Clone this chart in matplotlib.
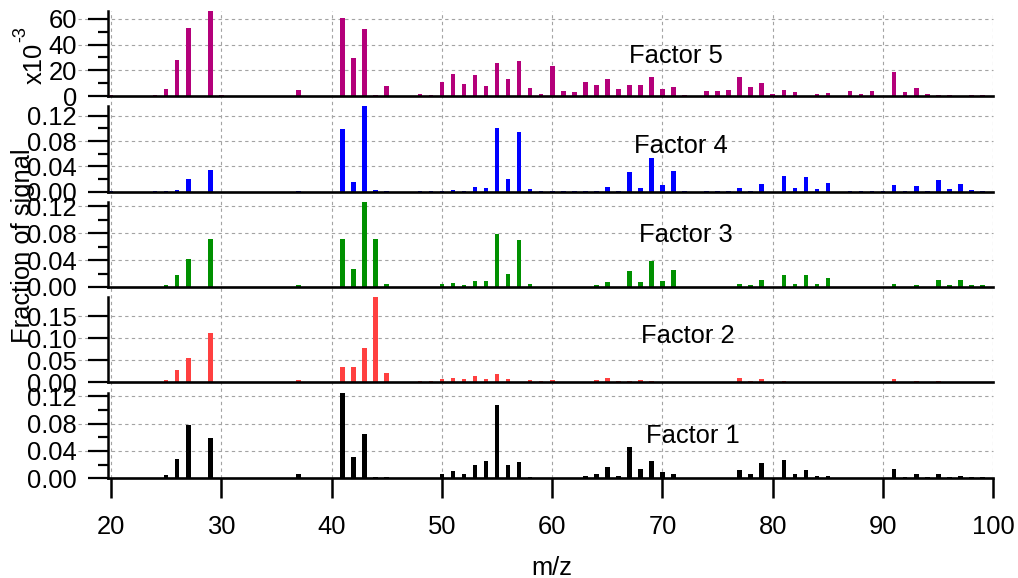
import numpy as np
import matplotlib
matplotlib.use("Agg")
import matplotlib.pyplot as plt
from matplotlib.transforms import blended_transform_factory
from matplotlib.ticker import FixedLocator, FormatStrFormatter

plt.rcParams['font.family'] = ['Liberation Sans', 'DejaVu Sans']

# ---------------- data (fraction of signal, m/z 20..99) ----------------
mz = list(range(20, 100))

factor5 = [0.0004, 0, 0, 0, 0.0008, 0.0052, 0.028, 0.053, 0, 0.067,
           0.0005, 0, 0, 0, 0, 0, 0, 0.0047, 0, 0,
           0, 0.061, 0.0296, 0.0519, 0.0005, 0.0078, 0, 0, 0.0015, 0.0010,
           0.0109, 0.017, 0.0093, 0.0163, 0.0078, 0.026, 0.0135, 0.027, 0.006, 0.0015,
           0.0233, 0.0041, 0.0031, 0.0111, 0.0088, 0.0135, 0.0054, 0.0083, 0.0083, 0.0148,
           0.0054, 0.0067, 0.0005, 0, 0.0039, 0.0039, 0.0047, 0.0148, 0.0067, 0.0099,
           0.0015, 0.0047, 0.0028, 0.0003, 0.0018, 0.0023, 0, 0.0036, 0.0018, 0.0039,
           0.0003, 0.0187, 0.0028, 0.0062, 0.0018, 0.0005, 0.0008, 0.0002, 0.0005, 0.0005]

factor4 = [0.0008, 0, 0, 0, 0.001, 0.001, 0.003, 0.0206, 0, 0.0348,
           0, 0, 0, 0, 0, 0, 0, 0.001, 0, 0,
           0, 0.0986, 0.0153, 0.137, 0.0026, 0.001, 0, 0, 0.001, 0.001,
           0.0005, 0.0026, 0.001, 0.0074, 0.0053, 0.1007, 0.0206, 0.0944, 0.0042, 0.001,
           0.001, 0.001, 0.001, 0.001, 0.001, 0.0069, 0.001, 0.031, 0.0063, 0.0532,
           0.0105, 0.0327, 0.0005, 0, 0.0005, 0.0005, 0.0005, 0.0053, 0.0005, 0.0121,
           0, 0.0248, 0.0053, 0.0227, 0.0042, 0.0137, 0, 0.001, 0.001, 0.0005,
           0.0005, 0.0105, 0.0005, 0.0084, 0.0005, 0.0184, 0.0037, 0.0126, 0.0026, 0.0005]

factor3 = [0.0005, 0, 0, 0, 0.0005, 0.003, 0.0173, 0.0415, 0, 0.0706,
           0, 0, 0, 0, 0, 0, 0, 0.0025, 0, 0,
           0, 0.0716, 0.0262, 0.128, 0.0706, 0.005, 0, 0, 0.0005, 0.0005,
           0.0044, 0.006, 0.003, 0.0094, 0.0094, 0.079, 0.0193, 0.0697, 0.005, 0.0005,
           0.0005, 0.0005, 0.0005, 0.0005, 0.003, 0.0079, 0.0005, 0.0242, 0.0069, 0.0385,
           0.0089, 0.0252, 0.0005, 0, 0.0005, 0.0005, 0.0005, 0.005, 0.0025, 0.0099,
           0, 0.0173, 0.005, 0.0183, 0.0044, 0.0128, 0, 0.0005, 0.0005, 0,
           0, 0.005, 0.0005, 0.003, 0.0005, 0.0109, 0.003, 0.0104, 0.0025, 0.0025]

factor2 = [0.001, 0, 0, 0, 0.0015, 0.0053, 0.028, 0.056, 0, 0.1114,
           0.001, 0, 0, 0, 0, 0, 0, 0.0053, 0, 0,
           0, 0.0356, 0.0356, 0.078, 0.196, 0.0212, 0, 0, 0.0023, 0.0023,
           0.0083, 0.0106, 0.0068, 0.0152, 0.0068, 0.0197, 0.008, 0.0015, 0.006, 0.003,
           0.006, 0.0015, 0.0015, 0.0015, 0.0045, 0.009, 0.002, 0.002, 0.005, 0.002,
           0.0015, 0.001, 0.001, 0, 0.0015, 0.0015, 0.0015, 0.009, 0.002, 0.0076,
           0.001, 0.002, 0.0015, 0.0015, 0.0015, 0.0015, 0, 0.0015, 0.001, 0.0015,
           0.0015, 0.0076, 0.0015, 0.002, 0.0015, 0.002, 0.0015, 0.0015, 0.0015, 0.0015]

factor1 = [0, 0, 0, 0, 0.001, 0.0049, 0.0278, 0.078, 0, 0.0586,
           0, 0, 0, 0, 0, 0, 0, 0.0059, 0, 0,
           0, 0.127, 0.0307, 0.065, 0.0024, 0.0015, 0, 0, 0, 0,
           0.0059, 0.0102, 0.0059, 0.019, 0.0259, 0.107, 0.0198, 0.0236, 0.0024, 0,
           0.0005, 0, 0, 0.003, 0.0059, 0.0161, 0.004, 0.0454, 0.0137, 0.0259,
           0.0093, 0.0059, 0, 0, 0.0005, 0, 0, 0.0127, 0.0068, 0.0229,
           0, 0.0268, 0.0059, 0.0117, 0.004, 0.003, 0, 0, 0, 0,
           0, 0.0137, 0.0024, 0.0059, 0.0015, 0.0068, 0.0024, 0.004, 0.0024, 0.0015]

factor_names = ["Factor 5", "Factor 4", "Factor 3", "Factor 2", "Factor 1"]
factor_colors = ["#B4007A", "#0000FF", "#009000", "#FF4040", "#000000"]
x_ticks = [20, 30, 40, 50, 60, 70, 80, 90, 100]

# ---------------- layout ----------------
W, H = 1018, 578
fig = plt.figure(figsize=(W / 100, H / 100), dpi=100)

def fy(px):
    return 1 - px / H

LEFT, RIGHT = 108, 993.4
XMIN, XMAX = 19.73, 100
FS = 18.4
GRID_C = "#a3a3a3"
GRID_LS = (0, (3, 3))

# (top px, bottom px, ymax, scale, major ticks, minor ticks, fmt)
panels = [
    (11.0, 96.0, 66.1, 1e3, [0, 20, 40, 60], [10, 30, 50], "%d"),
    (106.0, 191.7, 0.1355, 1, [0, 0.04, 0.08, 0.12], [0.02, 0.06, 0.10], "%.2f"),
    (201.7, 287.0, 0.1264, 1, [0, 0.04, 0.08, 0.12], [0.02, 0.06, 0.10], "%.2f"),
    (297.3, 382.3, 0.1932, 1, [0, 0.05, 0.10, 0.15], [], "%.2f"),
    (392.7, 478.3, 0.125, 1, [0, 0.04, 0.08, 0.12], [0.02, 0.06, 0.10], "%.2f"),
]
series = [factor5, factor4, factor3, factor2, factor1]
label_pos = [(676, 62.7), (681.3, 152.7), (685.8, 242.3), (687.7, 342.7), (692.5, 442.7)]

# background axes for vertical grid running through all panels
bg = fig.add_axes([LEFT / W, fy(478.3), (RIGHT - LEFT) / W, (478.3 - 11) / H])
bg.set_xlim(XMIN, XMAX)
bg.set_ylim(0, 1)
bg.axis("off")
for xt in x_ticks:
    bg.axvline(xt, color=GRID_C, lw=0.8, ls=GRID_LS, zorder=0)

for i, (top, bot, ymax, scale, majors, minors, fmt) in enumerate(panels):
    ax = fig.add_axes([LEFT / W, fy(bot), (RIGHT - LEFT) / W, (bot - top) / H])
    ax.set_facecolor("none")
    vals = np.array(series[i]) * scale
    ax.bar(mz, vals, width=0.42, color=factor_colors[i], linewidth=0, zorder=3)
    ax.set_xlim(XMIN, XMAX)
    ax.set_ylim(0, ymax)
    for s in ["top", "right"]:
        ax.spines[s].set_visible(False)
    ax.spines["left"].set_linewidth(1.8)
    ax.spines["bottom"].set_linewidth(1.9)
    ax.spines["bottom"].set_zorder(4)
    ax.yaxis.set_major_locator(FixedLocator(majors))
    ax.yaxis.set_minor_locator(FixedLocator(minors))
    ax.yaxis.set_major_formatter(FormatStrFormatter(fmt))
    ax.tick_params(axis="y", which="major", direction="out", length=14.4, width=1.6,
                   pad=8, labelsize=FS)
    ax.tick_params(axis="y", which="minor", direction="out", length=7.2, width=1.6)
    # horizontal grid (extends slightly left of the axis like the original)
    tr = blended_transform_factory(ax.transAxes, ax.transData)
    for yt in majors[1:]:
        ax.plot([-0.034, 1.0], [yt, yt], transform=tr, color=GRID_C, lw=0.8,
                ls=GRID_LS, clip_on=False, zorder=1)
    if i == len(panels) - 1:
        ax.xaxis.set_major_locator(FixedLocator(x_ticks))
        ax.tick_params(axis="x", which="major", direction="out", length=14.4,
                       width=1.8, pad=12.3, labelsize=FS)
        ax.tick_params(axis="x", which="minor", bottom=False)
    else:
        ax.tick_params(axis="x", which="both", bottom=False, labelbottom=False)
    lx, ly = label_pos[i]
    fig.text(lx / W, fy(ly), factor_names[i], fontsize=FS, ha="center", va="baseline")

# "x10^-3" multiplier label of the top panel
fig.text(35 / W, fy(63), "x10", rotation=90, fontsize=FS, ha="center", va="center")
fig.text(20.5 / W, fy(34.5), "-3", rotation=90, fontsize=13, ha="center", va="center")

fig.text(23 / W, fy(245.5), "Fraction of signal", rotation=90, fontsize=FS,
         ha="center", va="center")
fig.text(552 / W, fy(575), "m/z", fontsize=FS, ha="center", va="baseline")

fig.savefig("out.png", dpi=100)
